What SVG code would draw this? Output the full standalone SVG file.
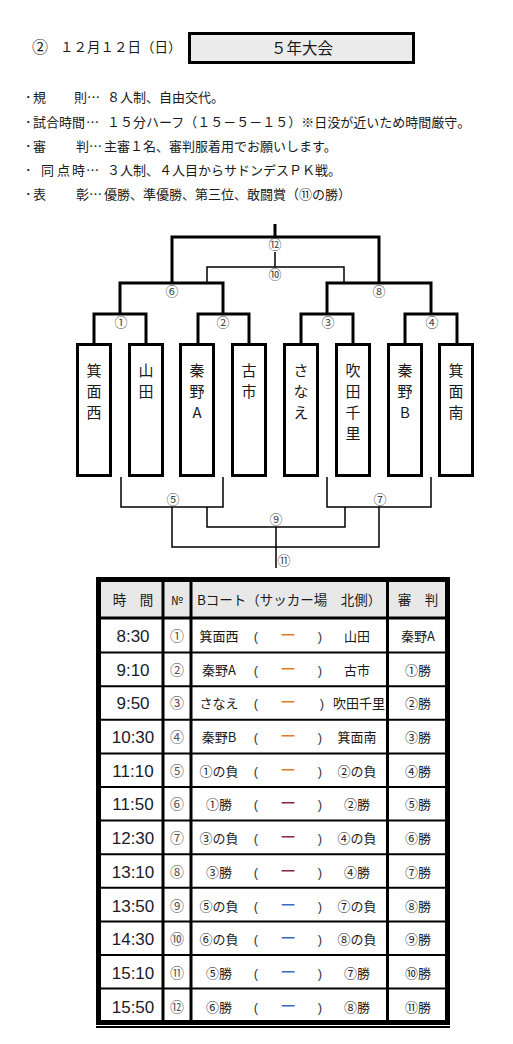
<svg xmlns="http://www.w3.org/2000/svg" width="513" height="1044" viewBox="0 0 513 1044">
<style>
text{font-family:"Noto Sans CJK JP","Noto Sans CJK SC",sans-serif;fill:#1a1a1a}
.t13{font-size:13px}
.lab{font-size:13px;fill:#444;text-anchor:middle}
.thick{stroke:#000;stroke-width:3;fill:none}
.thin{stroke:#000;stroke-width:1.5;fill:none}
.box{fill:#fff;stroke:#000;stroke-width:3}
.bt{font-size:15px;text-anchor:middle}
.time{font-family:"Liberation Sans",Arial,sans-serif;font-size:17px;text-anchor:middle;fill:#1a1a2a}
.no{font-size:14px;text-anchor:middle;fill:#555}
.tm{font-size:13px;text-anchor:middle}
.par{font-family:"Liberation Sans",Arial,sans-serif;font-size:13px;text-anchor:middle;fill:#333}
.dash{font-size:16px;text-anchor:middle}
.hd{font-size:13.5px}
.sep{stroke:#000;stroke-width:2}
.col{stroke:#000;stroke-width:3}
</style>

<g id="title">
<text x="32" y="53" style="font-size:16px">②</text>
<text x="60" y="52" style="font-size:13.5px">１２月１２日（日）</text>
<rect x="189.5" y="33.5" width="224" height="29" fill="#ebebeb" stroke="#000" stroke-width="3"/>
<text x="302" y="54" style="font-size:15.5px;text-anchor:middle">５年大会</text>
</g>

<g id="rules" class="t13">
<text x="25" y="102">･</text><text x="33" y="102">規</text><text x="74" y="102">則</text><text x="87" y="102">…</text><text x="107" y="102">８人制、自由交代。</text>
<text x="25" y="127">･</text><text x="33" y="127">試合時間</text><text x="86" y="127">…</text><text x="107" y="127">１５分ハーフ（１５－５－１５）※日没が近いため時間厳守。</text>
<text x="25" y="151">･</text><text x="33" y="151">審</text><text x="76" y="151">判</text><text x="89" y="151">…</text><text x="104" y="151">主審１名、審判服着用でお願いします。</text>
<text x="25" y="175">･</text><text x="41" y="175">同</text><text x="57" y="175">点</text><text x="72" y="175">時</text><text x="86" y="175">…</text><text x="107" y="175">３人制、４人目からサドンデスＰＫ戦。</text>
<text x="25" y="199">･</text><text x="33" y="199">表</text><text x="76" y="199">彰</text><text x="89" y="199">…</text><text x="104" y="199">優勝、準優勝、第三位、敢闘賞（⑪の勝）</text>
</g>

<g id="connectors">
<path class="thick" d="M275 224V237M172 283V237H379V283"/>
<path class="thin" d="M275 252V267M207 282V267H344V282"/>
<path class="thick" d="M120 314V283H223V314M327 314V283H431V314"/>
<path class="thick" d="M94 343V314H146V343M198 343V314H249V343M301 343V314H353V343M405 343V314H457V343"/>
<path class="thin" d="M121 477V507H223V477M327 477V507H431V477"/>
<path class="thin" d="M207 507V527H345V507M172 507V547H379V507M276 527V568"/>
</g>

<g id="labels">
<text class="lab" x="275" y="249">⑫</text>
<text class="lab" x="275" y="279">⑩</text>
<text class="lab" x="172" y="296">⑥</text>
<text class="lab" x="379" y="296">⑧</text>
<text class="lab" x="121" y="327">①</text>
<text class="lab" x="223" y="327">②</text>
<text class="lab" x="328" y="327">③</text>
<text class="lab" x="432" y="327">④</text>
<text class="lab" x="173" y="504">⑤</text>
<text class="lab" x="380" y="504">⑦</text>
<text class="lab" x="276" y="524">⑨</text>
<text class="lab" x="284" y="565">⑪</text>
</g>

<g id="team1"><rect class="box" x="77.5" y="344.5" width="33" height="131"/><text class="bt" x="94" y="376">箕</text><text class="bt" x="94" y="397">面</text><text class="bt" x="94" y="418">西</text></g>
<g id="team2"><rect class="box" x="129.5" y="344.5" width="33" height="131"/><text class="bt" x="146" y="376">山</text><text class="bt" x="146" y="397">田</text></g>
<g id="team3"><rect class="box" x="180.5" y="344.5" width="33" height="131"/><text class="bt" x="197" y="376">秦</text><text class="bt" x="197" y="397">野</text><text class="bt" x="197" y="418">A</text></g>
<g id="team4"><rect class="box" x="232.5" y="344.5" width="33" height="131"/><text class="bt" x="249" y="376">古</text><text class="bt" x="249" y="397">市</text></g>
<g id="team5"><rect class="box" x="284.5" y="344.5" width="33" height="131"/><text class="bt" x="301" y="376">さ</text><text class="bt" x="301" y="397">な</text><text class="bt" x="301" y="418">え</text></g>
<g id="team6"><rect class="box" x="336.5" y="344.5" width="33" height="131"/><text class="bt" x="353" y="376">吹</text><text class="bt" x="353" y="397">田</text><text class="bt" x="353" y="418">千</text><text class="bt" x="353" y="439">里</text></g>
<g id="team7"><rect class="box" x="388.5" y="344.5" width="33" height="131"/><text class="bt" x="405" y="376">秦</text><text class="bt" x="405" y="397">野</text><text class="bt" x="405" y="418">B</text></g>
<g id="team8"><rect class="box" x="439.5" y="344.5" width="33" height="131"/><text class="bt" x="456" y="376">箕</text><text class="bt" x="456" y="397">面</text><text class="bt" x="456" y="418">南</text></g>

<g id="table">
<rect x="98.5" y="579.5" width="349" height="443" fill="#fff" stroke="#000" stroke-width="5"/>
<rect x="101" y="582" width="344" height="35" fill="#e8e8e8"/>
<line class="col" x1="99" y1="618" x2="447" y2="618"/>
<g class="sep">
<line x1="101" y1="652.6" x2="445" y2="652.6"/><line x1="101" y1="686.2" x2="445" y2="686.2"/>
<line x1="101" y1="719.8" x2="445" y2="719.8"/><line x1="101" y1="753.4" x2="445" y2="753.4"/>
<line x1="101" y1="787" x2="445" y2="787"/><line x1="101" y1="820.6" x2="445" y2="820.6"/>
<line x1="101" y1="854.2" x2="445" y2="854.2"/><line x1="101" y1="887.8" x2="445" y2="887.8"/>
<line x1="101" y1="921.4" x2="445" y2="921.4"/><line x1="101" y1="955" x2="445" y2="955"/>
<line x1="101" y1="988.6" x2="445" y2="988.6"/>
</g>
<line class="col" x1="163" y1="582" x2="163" y2="1021"/>
<line class="col" x1="191" y1="582" x2="191" y2="1021"/>
<line class="col" x1="387.5" y1="582" x2="387.5" y2="1021"/>
<line x1="96" y1="1027" x2="450" y2="1027" stroke="#000" stroke-width="2"/>

<text class="hd" x="133" y="605" text-anchor="middle">時　間</text>
<text class="hd" x="177" y="605" text-anchor="middle" style="font-size:12px">№</text>
<text class="hd" x="197" y="605">Bコート（サッカー場　北側）</text>
<text class="hd" x="418" y="605" text-anchor="middle">審　判</text>

<g id="r1"><text class="time" x="133" y="642">8:30</text><text class="no" x="177" y="641">①</text><text class="tm" x="219" y="641">箕面西</text><text class="par" x="256" y="641">(</text><text class="dash" x="288" y="641" style="fill:#e07a2a">ー</text><text class="par" x="320" y="641">)</text><text class="tm" x="357" y="641">山田</text><text class="tm" x="418" y="641">秦野A</text></g>
<g id="r2"><text class="time" x="133" y="676">9:10</text><text class="no" x="177" y="675">②</text><text class="tm" x="219" y="675">秦野A</text><text class="par" x="256" y="675">(</text><text class="dash" x="288" y="675" style="fill:#e07a2a">ー</text><text class="par" x="320" y="675">)</text><text class="tm" x="357" y="675">古市</text><text class="tm" x="418" y="675">①勝</text></g>
<g id="r3"><text class="time" x="133" y="709">9:50</text><text class="no" x="177" y="708">③</text><text class="tm" x="219" y="708">さなえ</text><text class="par" x="256" y="708">(</text><text class="dash" x="288" y="708" style="fill:#e07a2a">ー</text><text class="par" x="322" y="708">)</text><text class="tm" x="359" y="708">吹田千里</text><text class="tm" x="418" y="708">②勝</text></g>
<g id="r4"><text class="time" x="133" y="743">10:30</text><text class="no" x="177" y="742">④</text><text class="tm" x="219" y="742">秦野B</text><text class="par" x="256" y="742">(</text><text class="dash" x="288" y="742" style="fill:#e07a2a">ー</text><text class="par" x="320" y="742">)</text><text class="tm" x="357" y="742">箕面南</text><text class="tm" x="418" y="742">③勝</text></g>
<g id="r5"><text class="time" x="133" y="777">11:10</text><text class="no" x="177" y="776">⑤</text><text class="tm" x="219" y="776">①の負</text><text class="par" x="256" y="776">(</text><text class="dash" x="288" y="776" style="fill:#e07a2a">ー</text><text class="par" x="320" y="776">)</text><text class="tm" x="357" y="776">②の負</text><text class="tm" x="418" y="776">④勝</text></g>
<g id="r6"><text class="time" x="133" y="810">11:50</text><text class="no" x="177" y="809">⑥</text><text class="tm" x="219" y="809">①勝</text><text class="par" x="256" y="809">(</text><text class="dash" x="288" y="809" style="fill:#8a2a4a">ー</text><text class="par" x="320" y="809">)</text><text class="tm" x="357" y="809">②勝</text><text class="tm" x="418" y="809">⑤勝</text></g>
<g id="r7"><text class="time" x="133" y="844">12:30</text><text class="no" x="177" y="843">⑦</text><text class="tm" x="219" y="843">③の負</text><text class="par" x="256" y="843">(</text><text class="dash" x="288" y="843" style="fill:#8a2a4a">ー</text><text class="par" x="320" y="843">)</text><text class="tm" x="357" y="843">④の負</text><text class="tm" x="418" y="843">⑥勝</text></g>
<g id="r8"><text class="time" x="133" y="878">13:10</text><text class="no" x="177" y="877">⑧</text><text class="tm" x="219" y="877">③勝</text><text class="par" x="256" y="877">(</text><text class="dash" x="288" y="877" style="fill:#8a2a4a">ー</text><text class="par" x="320" y="877">)</text><text class="tm" x="357" y="877">④勝</text><text class="tm" x="418" y="877">⑦勝</text></g>
<g id="r9"><text class="time" x="133" y="912">13:50</text><text class="no" x="177" y="911">⑨</text><text class="tm" x="219" y="911">⑤の負</text><text class="par" x="256" y="911">(</text><text class="dash" x="288" y="911" style="fill:#3a6ac8">ー</text><text class="par" x="320" y="911">)</text><text class="tm" x="357" y="911">⑦の負</text><text class="tm" x="418" y="911">⑧勝</text></g>
<g id="r10"><text class="time" x="133" y="945">14:30</text><text class="no" x="177" y="944">⑩</text><text class="tm" x="219" y="944">⑥の負</text><text class="par" x="256" y="944">(</text><text class="dash" x="288" y="944" style="fill:#3a6ac8">ー</text><text class="par" x="320" y="944">)</text><text class="tm" x="357" y="944">⑧の負</text><text class="tm" x="418" y="944">⑨勝</text></g>
<g id="r11"><text class="time" x="133" y="979">15:10</text><text class="no" x="177" y="978">⑪</text><text class="tm" x="219" y="978">⑤勝</text><text class="par" x="256" y="978">(</text><text class="dash" x="288" y="978" style="fill:#3a6ac8">ー</text><text class="par" x="320" y="978">)</text><text class="tm" x="357" y="978">⑦勝</text><text class="tm" x="418" y="978">⑩勝</text></g>
<g id="r12"><text class="time" x="133" y="1013">15:50</text><text class="no" x="177" y="1012">⑫</text><text class="tm" x="219" y="1012">⑥勝</text><text class="par" x="256" y="1012">(</text><text class="dash" x="288" y="1012" style="fill:#3a6ac8">ー</text><text class="par" x="320" y="1012">)</text><text class="tm" x="357" y="1012">⑧勝</text><text class="tm" x="418" y="1012">⑪勝</text></g>
</g>
</svg>
